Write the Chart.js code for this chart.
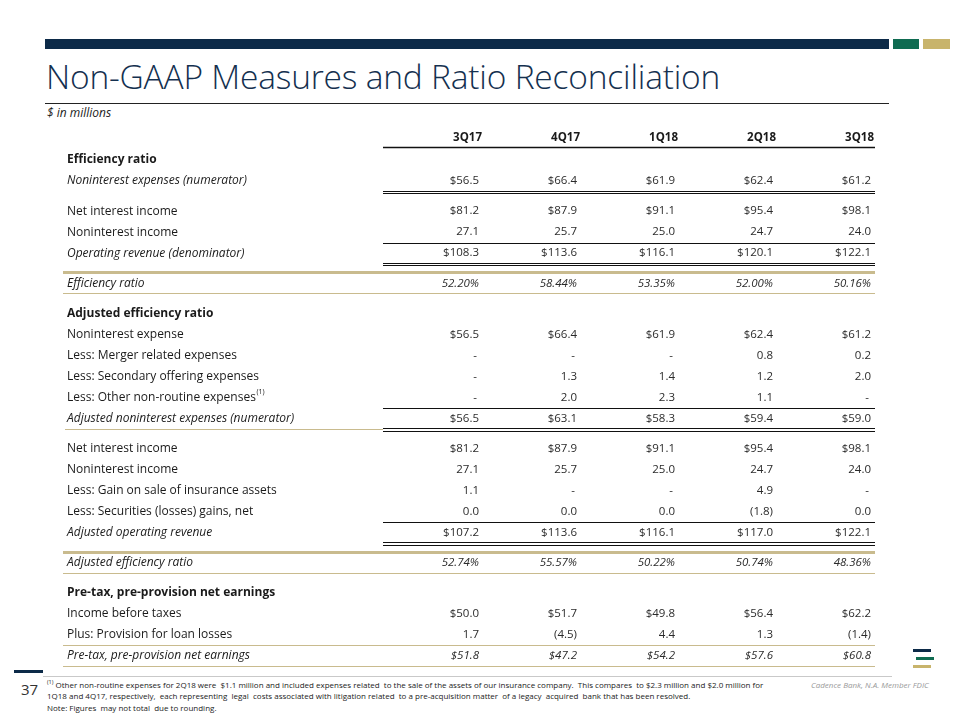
<!DOCTYPE html>
<html>
<head>
<meta charset="utf-8">
<script src="https://cdn.jsdelivr.net/npm/chart.js@4.4.1/dist/chart.umd.min.js"></script>
<style>
  body { margin: 0; background: #fff; }
  #page { position: relative; width: 960px; height: 720px; overflow: hidden; font-family: 'Open Sans', sans-serif; color: #222; }
  .abs { position: absolute; }
  #title { left: 46px; top: 53px; font-size: 33.5px; font-weight: 300; color: #14304f; white-space: nowrap; letter-spacing: -0.2px; }
  #units { left: 47px; top: 104px; font-size: 12px; font-style: italic; }
  .foot { left: 47px; font-size: 8px; white-space: pre; color: #222; }
  #fdic { left: 811px; top: 679px; font-size: 8px; font-style: italic; color: #999; white-space: nowrap; }
  #pageno { left: 21px; top: 679px; font-size: 15px; color: #333; }
  #table { position: absolute; left: 0; top: 0; }
</style>
</head>
<body>
<div id="page">
  <div class="abs" style="left:45px;top:39px;width:844px;height:10px;background:#0c2a48"></div>
  <div class="abs" style="left:893px;top:39px;width:26px;height:10px;background:#0f6b51"></div>
  <div class="abs" style="left:923px;top:39px;width:27px;height:10px;background:#c8b46c"></div>
  <div class="abs" id="title">Non-GAAP Measures and Ratio Reconciliation</div>
  <div class="abs" style="left:45px;top:103px;width:844px;height:1px;background:#222"></div>
  <div class="abs" id="units">$ in millions</div>

  <div class="abs" style="left:14px;top:670px;width:29px;height:3px;background:#0c2a48"></div>
  <div class="abs" style="left:43px;top:676px;width:849px;height:1px;background:#c9c9c9"></div>
  <div class="abs" id="pageno">37</div>
  <div class="abs foot" style="top:678px"><sup style="font-size:5.5px">(1)</sup> Other non-routine expenses for 2Q18 were  $1.1 million and included expenses related  to the sale of the assets of our insurance company.  This compares  to $2.3 million and $2.0 million for</div>
  <div class="abs foot" style="top:690px">1Q18 and 4Q17, respectively,  each representing  legal  costs associated with litigation related  to a pre-acquisition matter  of a legacy  acquired  bank that has been resolved.</div>
  <div class="abs foot" style="top:702px">Note: Figures  may not total  due to rounding.</div>
  <div class="abs" id="fdic">Cadence Bank, N.A. Member FDIC</div>
  <div class="abs" style="left:913px;top:649px;width:18px;height:3px;background:#0c2a48"></div>
  <div class="abs" style="left:916px;top:657px;width:18px;height:3px;background:#0f6b51"></div>
  <div class="abs" style="left:913px;top:665px;width:18px;height:3px;background:#c8b46c"></div>

  <canvas id="table" width="960" height="720"></canvas>
</div>
<script>
// column headers
const quarters = ['3Q17', '4Q17', '1Q18', '2Q18', '3Q18'];

// Efficiency ratio
const nonintExpNumerator = [56.5, 66.4, 61.9, 62.4, 61.2];
const netInterestIncome = [81.2, 87.9, 91.1, 95.4, 98.1];
const nonintIncome = [27.1, 25.7, 25.0, 24.7, 24.0];
const operatingRevenue = [108.3, 113.6, 116.1, 120.1, 122.1];
const efficiencyRatio = [52.20, 58.44, 53.35, 52.00, 50.16];

// Adjusted efficiency ratio
const nonintExpense = [56.5, 66.4, 61.9, 62.4, 61.2];
const mergerExpenses = [null, null, null, 0.8, 0.2];
const secondaryOfferingExp = [null, 1.3, 1.4, 1.2, 2.0];
const otherNonRoutineExp = [null, 2.0, 2.3, 1.1, null];
const adjNonintExpNumerator = [56.5, 63.1, 58.3, 59.4, 59.0];
const adjNetInterestIncome = [81.2, 87.9, 91.1, 95.4, 98.1];
const adjNonintIncome = [27.1, 25.7, 25.0, 24.7, 24.0];
const gainInsuranceAssets = [1.1, null, null, 4.9, null];
const securitiesGains = [0.0, 0.0, 0.0, -1.8, 0.0];
const adjOperatingRevenue = [107.2, 113.6, 116.1, 117.0, 122.1];
const adjEfficiencyRatio = [52.74, 55.57, 50.22, 50.74, 48.36];

// Pre-tax, pre-provision net earnings
const incomeBeforeTaxes = [50.0, 51.7, 49.8, 56.4, 62.2];
const provisionLoanLosses = [1.7, -4.5, 4.4, 1.3, -1.4];
const pretaxPreprovision = [51.8, 47.2, 54.2, 57.6, 60.8];

// rows of the table: text, values, number format and look
const rows = [
  { label: 'Efficiency ratio', bold: true },
  { label: 'Noninterest expenses (numerator)', values: nonintExpNumerator, fmt: 'usd', italic: true, below: 'double' },
  { label: 'Net interest income', values: netInterestIncome, fmt: 'usd', gap: true },
  { label: 'Noninterest income', values: nonintIncome, fmt: 'num', below: 'single' },
  { label: 'Operating revenue (denominator)', values: operatingRevenue, fmt: 'usd', italic: true, below: 'double' },
  { label: 'Efficiency ratio', values: efficiencyRatio, fmt: 'pct', italic: true, italicValues: true, gap: true, above: 'goldThick', below: 'gold' },
  { label: 'Adjusted efficiency ratio', bold: true, gap: true },
  { label: 'Noninterest expense', values: nonintExpense, fmt: 'usd' },
  { label: 'Less: Merger related expenses', values: mergerExpenses, fmt: 'num' },
  { label: 'Less: Secondary offering expenses', values: secondaryOfferingExp, fmt: 'num' },
  { label: 'Less: Other non-routine expenses', sup: '(1)', values: otherNonRoutineExp, fmt: 'num', below: 'single' },
  { label: 'Adjusted noninterest expenses (numerator)', values: adjNonintExpNumerator, fmt: 'usd', italic: true, below: 'double', labelGold: true },
  { label: 'Net interest income', values: adjNetInterestIncome, fmt: 'usd', gap: true },
  { label: 'Noninterest income', values: adjNonintIncome, fmt: 'num' },
  { label: 'Less: Gain on sale of insurance assets', values: gainInsuranceAssets, fmt: 'num' },
  { label: 'Less: Securities (losses) gains, net', values: securitiesGains, fmt: 'num', below: 'single' },
  { label: 'Adjusted operating revenue', values: adjOperatingRevenue, fmt: 'usd', italic: true, below: 'double' },
  { label: 'Adjusted efficiency ratio', values: adjEfficiencyRatio, fmt: 'pct', italic: true, italicValues: true, gap: true, above: 'goldThick', below: 'gold' },
  { label: 'Pre-tax, pre-provision net earnings', bold: true, gap: true },
  { label: 'Income before taxes', values: incomeBeforeTaxes, fmt: 'usd' },
  { label: 'Plus: Provision for loan losses', values: provisionLoanLosses, fmt: 'num', below: 'gold' },
  { label: 'Pre-tax, pre-provision net earnings', values: pretaxPreprovision, fmt: 'usd', italic: true, italicValues: true, below: 'gold' }
];

// row position in row units, gaps between blocks are a bit taller
const GAP = 1.43;
let pos = 0;
rows.forEach((r, i) => {
  if (i > 0) pos += r.gap ? GAP : 1;
  r.pos = pos;
});
const lastPos = pos;

function fmtValue(v, fmt) {
  if (v === null) return '-';
  if (fmt === 'pct') return v.toFixed(2) + '%';
  const s = Math.abs(v).toFixed(1);
  if (v < 0) return '(' + s + ')';
  return fmt === 'usd' ? '$' + s : s;
}

const FONT = "'Open Sans', sans-serif";
const labelX = 67;
const goldLeft = 63;
const TEXT = '#1a1a1a';
const GOLD = '#c9bb8e';

// one invisible point per cell, the text is drawn at the element position
const datasets = rows.filter(r => r.values).map(r => ({
  label: r.label,
  data: r.values.map((v, i) => ({ x: i + 1, y: r.pos, text: fmtValue(v, r.fmt) })),
  row: r,
  pointRadius: 0
}));

function hline(ctx, x1, x2, y, color, w) {
  ctx.save();
  ctx.strokeStyle = color;
  ctx.lineWidth = w;
  const yy = w % 2 ? Math.round(y) + 0.5 : Math.round(y);
  ctx.beginPath();
  ctx.moveTo(x1, yy);
  ctx.lineTo(x2, yy);
  ctx.stroke();
  ctx.restore();
}

const tablePlugin = {
  id: 'tableText',
  afterDatasetsDraw(chart) {
    const ctx = chart.ctx;
    const xs = chart.scales.x, ys = chart.scales.y;
    const left = xs.getPixelForValue(0), right = xs.getPixelForValue(5) + 2;

    // headers
    ctx.save();
    ctx.fillStyle = TEXT;
    ctx.font = 'bold 11.5px ' + FONT;
    ctx.textAlign = 'right';
    ctx.textBaseline = 'middle';
    const headY = ys.getPixelForValue(0) - 22;
    quarters.forEach((q, i) => ctx.fillText(q, xs.getPixelForValue(i + 1) + 1, headY));
    ctx.restore();
    hline(ctx, left, right, ys.getPixelForValue(0) - 13, '#111', 1.5);

    // rules
    rows.forEach(r => {
      const y = ys.getPixelForValue(r.pos);
      if (r.above === 'goldThick') hline(ctx, goldLeft, right, y - 11, GOLD, 3);
      if (r.below === 'single') hline(ctx, left, right, y + 10.5, '#111', 1);
      if (r.below === 'double') {
        hline(ctx, left, right, y + 9.5, '#111', 1);
        hline(ctx, left, right, y + 12, '#111', 1);
      }
      if (r.below === 'gold') hline(ctx, goldLeft, right, y + 10, GOLD, 1);
      if (r.labelGold) hline(ctx, goldLeft + 2, left, y + 10, GOLD, 1);
    });

    // row labels
    ctx.save();
    ctx.textBaseline = 'middle';
    ctx.fillStyle = TEXT;
    rows.forEach(r => {
      const y = ys.getPixelForValue(r.pos);
      ctx.font = (r.bold ? 'bold ' : r.italic ? 'italic ' : '') + '12px ' + FONT;
      ctx.textAlign = 'left';
      ctx.fillText(r.label, labelX, y);
      if (r.sup) {
        const w = ctx.measureText(r.label).width;
        ctx.font = '7px ' + FONT;
        ctx.fillText(r.sup, labelX + w + 0.5, y - 5);
      }
    });
    ctx.restore();

    // cell values
    ctx.save();
    ctx.textBaseline = 'middle';
    ctx.textAlign = 'right';
    ctx.fillStyle = '#2b2b2b';
    chart.data.datasets.forEach((ds, di) => {
      const meta = chart.getDatasetMeta(di);
      ctx.font = (ds.row.italicValues ? 'italic ' : '') + '11.5px ' + FONT;
      meta.data.forEach((el, i) => {
        const t = ds.data[i].text;
        ctx.fillText(t, el.x - (t === '-' ? 4 : 2), el.y);
      });
    });
    ctx.restore();
  }
};

new Chart(document.getElementById('table'), {
  type: 'scatter',
  data: { datasets: datasets },
  options: {
    responsive: false,
    animation: false,
    events: [],
    layout: { padding: { top: 160, bottom: 64, left: 383, right: 87 } },
    scales: {
      x: { type: 'linear', min: 0, max: 5, display: false },
      y: { type: 'linear', min: 0, max: lastPos, reverse: true, display: false }
    },
    plugins: { legend: { display: false }, tooltip: { enabled: false } }
  },
  plugins: [tablePlugin]
});
</script>
</body>
</html>
